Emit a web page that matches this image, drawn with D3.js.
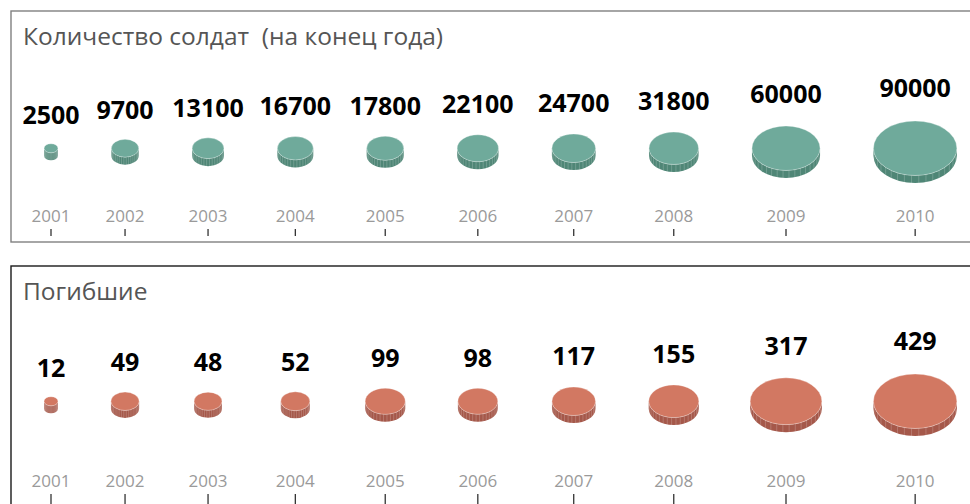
<!DOCTYPE html>
<html>
<head>
<meta charset="utf-8">
<script src="https://cdn.jsdelivr.net/npm/d3@7"></script>
<style>
  body { margin: 0; background: #fff; }
  text { font-family: "Open Sans", "Noto Sans", sans-serif; }
</style>
</head>
<body>
<div id="chart"></div>
<script>
const years = [2001, 2002, 2003, 2004, 2005, 2006, 2007, 2008, 2009, 2010];
const soldiers = [2500, 9700, 13100, 16700, 17800, 22100, 24700, 31800, 60000, 90000];
const deaths = [12, 49, 48, 52, 99, 98, 117, 155, 317, 429];

const width = 970, height = 504;
const maxR = 41.7;     // radius of the biggest coin
const gap = 53.4;      // space between coins
const thick = 7.5;     // coin thickness
const squash = 0.653;  // ry / rx

let svg = d3.select("#chart")
    .append("svg")
    .attr("width", width)
    .attr("height", height);

// x positions follow the soldier coins, same for both panels
let rSold = d3.scaleSqrt().domain([0, d3.max(soldiers)]).range([0, maxR]);
let xs = [];
soldiers.forEach((v, i) => {
    if (i === 0) xs.push(51);
    else xs.push(xs[i - 1] + rSold(soldiers[i - 1]) + rSold(v) + gap);
});

let panels = [
    {title: "Количество солдат  (на конец года)", values: soldiers, top: 11, h: 231,
     border: "#808080", cy: 148.25, yearY: 221.7, tick: [229, 236],
     face: "#6faa9b", side: "#4f8676"},
    {title: "Погибшие", values: deaths, top: 266, h: 260,
     border: "#1a1a1a", cy: 401.25, yearY: 486.5, tick: [494, 506],
     face: "#d27862", side: "#a5584a"}
];

panels.forEach(p => {
    let g = svg.append("g");
    let r = d3.scaleSqrt().domain([0, d3.max(p.values)]).range([0, maxR]);

    g.append("rect")
        .attr("x", 11)
        .attr("y", p.top)
        .attr("width", 980)
        .attr("height", p.h)
        .attr("fill", "none")
        .attr("stroke", p.border)
        .attr("stroke-width", 1.4);

    g.append("text")
        .attr("x", 23)
        .attr("y", p.top + 34)
        .style("white-space", "pre")
        .attr("font-size", 24.5)
        .attr("fill", "#555")
        .text(p.title);

    let coin = g.selectAll(".coin")
        .data(p.values)
        .enter()
        .append("g")
        .attr("class", "coin");

    // side of the coin
    coin.append("path")
        .attr("d", (d, i) => {
            let cx = xs[i], rx = r(d), ry = rx * squash, cy = p.cy;
            return "M" + (cx - rx) + "," + cy +
                " L" + (cx - rx) + "," + (cy + thick) +
                " A" + rx + " " + ry + " 0 0 0 " + (cx + rx) + "," + (cy + thick) +
                " L" + (cx + rx) + "," + cy +
                " A" + rx + " " + ry + " 0 0 1 " + (cx - rx) + "," + cy + " Z";
        })
        .attr("fill", p.side);

    // ridges on the edge
    coin.each(function(d, i) {
        let cx = xs[i], rx = r(d), ry = rx * squash;
        let angles = d3.range(15, 170, 10).map(a => a * Math.PI / 180);
        d3.select(this).selectAll("line")
            .data(angles)
            .enter()
            .append("line")
            .attr("x1", a => cx + rx * Math.cos(a))
            .attr("x2", a => cx + rx * Math.cos(a))
            .attr("y1", a => p.cy + ry * Math.sin(a))
            .attr("y2", a => p.cy + thick + ry * Math.sin(a))
            .attr("stroke", "#fff")
            .attr("stroke-opacity", 0.28)
            .attr("stroke-width", 0.7);
    });

    // top face
    coin.append("ellipse")
        .attr("cx", (d, i) => xs[i])
        .attr("cy", p.cy)
        .attr("rx", d => r(d))
        .attr("ry", d => r(d) * squash)
        .attr("fill", p.face)
        .attr("stroke", "#fff")
        .attr("stroke-opacity", 0.45)
        .attr("stroke-width", 0.7);

    // value labels
    g.selectAll(".val")
        .data(p.values)
        .enter()
        .append("text")
        .attr("class", "val")
        .attr("x", (d, i) => xs[i])
        .attr("y", d => p.cy - r(d) * squash - 19 - 0.12 * r(d))
        .attr("text-anchor", "middle")
        .attr("font-size", 25)
        .attr("font-weight", "bold")
        .attr("fill", "#000")
        .text(d => d);

    // years and ticks
    g.selectAll(".year")
        .data(years)
        .enter()
        .append("text")
        .attr("class", "year")
        .attr("x", (d, i) => xs[i])
        .attr("y", p.yearY)
        .attr("text-anchor", "middle")
        .attr("font-size", 17)
        .attr("fill", "#9a9a9a")
        .text(d => d);

    g.selectAll(".tick")
        .data(years)
        .enter()
        .append("line")
        .attr("class", "tick")
        .attr("x1", (d, i) => xs[i])
        .attr("x2", (d, i) => xs[i])
        .attr("y1", p.tick[0])
        .attr("y2", p.tick[1])
        .attr("stroke", "#222")
        .attr("stroke-width", 1.2);
});
</script>
</body>
</html>
